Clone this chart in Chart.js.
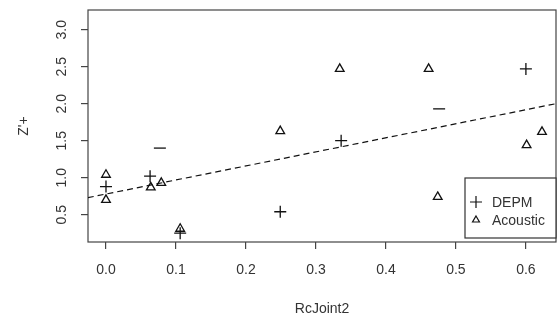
<!DOCTYPE html>
<html>
<head>
<meta charset="UTF-8">
<title>RcJoint2 vs Z'+</title>
<script src="https://cdn.jsdelivr.net/npm/chart.js"></script>
<style>
html, body { margin: 0; padding: 0; background: #fff; }
#wrap { width: 558px; height: 322px; }
</style>
</head>
<body>
<div id="wrap"><canvas id="chart" width="558" height="322"></canvas></div>
<script>
// DEPM points (+); two of them only show their bar
const depmX = [0.0, 0.063, 0.077, 0.106, 0.249, 0.336, 0.476, 0.60];
const depmY = [0.88, 1.02, 1.40, 0.25, 0.54, 1.50, 1.93, 2.47];
const depmMarks = ['cross', 'cross', 'line', 'cross', 'cross', 'cross', 'line', 'cross'];

// Acoustic points (triangles)
const acousticX = [0.0, 0.0, 0.064, 0.079, 0.106, 0.249, 0.334, 0.461, 0.474, 0.601, 0.623];
const acousticY = [1.04, 0.70, 0.87, 0.93, 0.31, 1.63, 2.47, 2.47, 0.74, 1.44, 1.62];

// fitted line, drawn edge to edge
const fitX = [-0.026, 0.643];
const fitY = [0.73, 2.00];

const xTicks = [0.0, 0.1, 0.2, 0.3, 0.4, 0.5, 0.6];
const yTicks = [0.5, 1.0, 1.5, 2.0, 2.5, 3.0];

const FONT = "'Liberation Sans', Arial, sans-serif";
const INK = '#111';

const pts = (xs, ys) => xs.map((x, i) => ({ x, y: ys[i] }));

// fixed axis size, no extra room for overhanging labels
const fixSize = (prop, size) => s => {
	s[prop] = size;
	s.paddingTop = s.paddingBottom = s.paddingLeft = s.paddingRight = 0;
};

// full box round the plot
const boxPlugin = {
	id: 'box',
	beforeDatasetsDraw(chart) {
		const { ctx, chartArea: a } = chart;
		ctx.save();
		ctx.strokeStyle = '#444';
		ctx.lineWidth = 1.2;
		ctx.strokeRect(a.left, a.top, a.right - a.left, a.bottom - a.top);
		ctx.restore();
	}
};

// R-style legend in the bottom right corner
const legendBox = {
	id: 'legendBox',
	afterDatasetsDraw(chart) {
		const { ctx, chartArea: a } = chart;
		const w = 91, h = 60;
		const x0 = a.right - w, y0 = a.bottom - 4 - h;
		ctx.save();
		ctx.fillStyle = '#fff';
		ctx.fillRect(x0, y0, w, h);
		ctx.strokeStyle = '#333';
		ctx.lineWidth = 1.2;
		ctx.strokeRect(x0, y0, w, h);
		const items = [
			{ ds: chart.data.datasets[1], style: 'cross', r: 6 },
			{ ds: chart.data.datasets[2], style: 'triangle', r: 4 }
		];
		ctx.font = '14px ' + FONT;
		ctx.textBaseline = 'middle';
		items.forEach((it, i) => {
			const y = y0 + 24 + i * 18;
			ctx.strokeStyle = INK;
			ctx.fillStyle = 'rgba(0,0,0,0)';
			ctx.lineWidth = 1.2;
			Chart.helpers.drawPoint(ctx, { pointStyle: it.style, radius: it.r, borderWidth: 1.2 }, x0 + 11, y);
			ctx.fillStyle = '#333';
			ctx.fillText(it.ds.label, x0 + 27, y + 1);
		});
		ctx.restore();
	}
};

new Chart(document.getElementById('chart'), {
	type: 'scatter',
	data: {
		datasets: [
			{
				type: 'line', label: 'fit', data: pts(fitX, fitY),
				borderColor: INK, borderWidth: 1.2, borderDash: [6, 4],
				pointRadius: 0, fill: false
			},
			{
				label: 'DEPM', data: pts(depmX, depmY),
				pointStyle: depmMarks, pointRadius: 6,
				borderColor: INK, backgroundColor: 'rgba(0,0,0,0)', pointBorderWidth: 1.3
			},
			{
				label: 'Acoustic', data: pts(acousticX, acousticY),
				pointStyle: 'triangle', pointRadius: 5,
				borderColor: INK, backgroundColor: 'rgba(0,0,0,0)', pointBorderWidth: 1.3
			}
		]
	},
	options: {
		responsive: false,
		animation: false,
		layout: { autoPadding: false, padding: { top: 10, right: 2, left: 0, bottom: 0 } },
		plugins: { legend: { display: false }, tooltip: { enabled: false } },
		scales: {
			x: {
				type: 'linear', min: -0.0257, max: 0.643,
				afterBuildTicks: s => { s.ticks = xTicks.map(v => ({ value: v })); },
				afterFit: fixSize('height', 80),
				border: { display: false },
				grid: { drawOnChartArea: false, drawTicks: true, tickLength: 7, color: '#444', lineWidth: 1.2 },
				ticks: {
					padding: 13, color: '#333', font: { family: FONT, size: 14 },
					maxRotation: 0, callback: v => v.toFixed(1)
				},
				title: { display: true, text: 'RcJoint2', color: '#333', font: { family: FONT, size: 14 }, padding: { top: 0, bottom: 4 } }
			},
			y: {
				type: 'linear', min: 0.131, max: 3.266,
				afterBuildTicks: s => { s.ticks = yTicks.map(v => ({ value: v })); },
				afterFit: fixSize('width', 88),
				border: { display: false },
				grid: { drawOnChartArea: false, drawTicks: true, tickLength: 7, color: '#444', lineWidth: 1.2 },
				ticks: {
					padding: 9, color: '#333', font: { family: FONT, size: 14 },
					minRotation: 90, maxRotation: 90, crossAlign: 'center',
					callback: v => v.toFixed(1)
				},
				title: { display: true, text: "Z'+", color: '#333', font: { family: FONT, size: 14 }, padding: { top: 16, bottom: 0 } }
			}
		}
	},
	plugins: [boxPlugin, legendBox]
});
</script>
</body>
</html>
